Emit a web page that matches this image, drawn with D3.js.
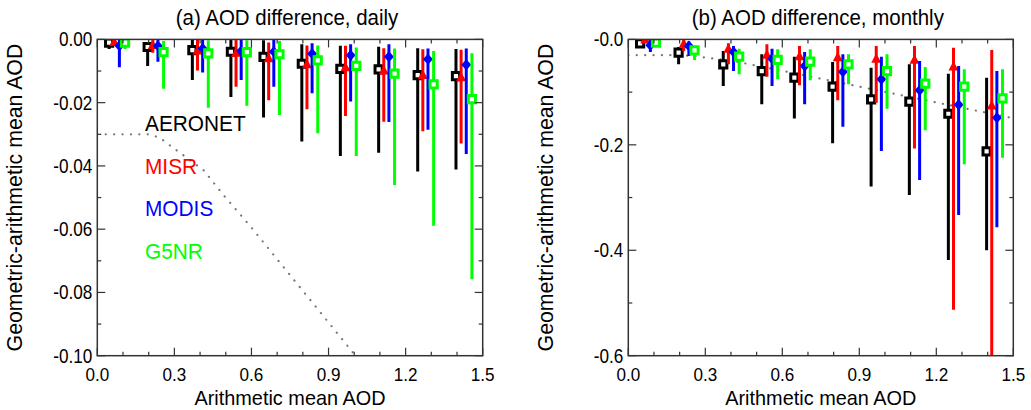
<!DOCTYPE html>
<html><head><meta charset="utf-8">
<script src="https://cdn.jsdelivr.net/npm/d3@7"></script>
<style>
html,body{margin:0;padding:0;background:#fff;}
svg{display:block;font-family:"Liberation Sans",Arial,Helvetica,sans-serif;}
</style></head>
<body><svg id="chart" width="1031" height="410"></svg>
<script>
// ---------------- data ----------------
const seriesNames = ["AERONET","MISR","MODIS","G5NR"];
const seriesColors = ["#000000","#ff0000","#0000ff","#00ff00"];
const seriesSymbols = ["square","triangle","diamond","square"];

// x position (arithmetic mean AOD) of each bin, per series
const aeronetX = [0.046,0.196,0.370,0.520,0.647,0.796,0.946,1.095,1.247,1.396];
const misrX    = [0.066,0.216,0.390,0.540,0.667,0.816,0.966,1.115,1.267,1.416];
const modisX   = [0.086,0.236,0.410,0.560,0.687,0.836,0.986,1.135,1.287,1.436];
const g5nrX    = [0.108,0.258,0.432,0.582,0.709,0.858,1.008,1.157,1.309,1.458];

// (a) daily
const dailyAeronet     = [-0.0010,-0.0024,-0.0034,-0.0039,-0.0055,-0.0077,-0.0093,-0.0095,-0.0113,-0.0116];
const dailyAeronetLow  = [-0.0030,-0.0084,-0.0128,-0.0182,-0.0247,-0.0323,-0.0369,-0.0358,-0.0418,-0.0411];
const dailyAeronetHigh = [0.0000,-0.0010,0.0000,0.0000,-0.0003,-0.0015,-0.0020,-0.0023,-0.0028,-0.0030];
const dailyMisr        = [-0.0010,-0.0019,-0.0037,-0.0044,-0.0061,-0.0080,-0.0090,-0.0100,-0.0114,-0.0121];
const dailyMisrLow     = [-0.0018,-0.0042,-0.0098,-0.0150,-0.0192,-0.0221,-0.0242,-0.0260,-0.0290,-0.0329];
const dailyMisrHigh    = [0.0000,0.0000,0.0000,-0.0002,-0.0010,-0.0019,-0.0020,-0.0028,-0.0031,-0.0033];
const dailyModis       = [-0.0020,-0.0021,-0.0029,-0.0037,-0.0039,-0.0045,-0.0050,-0.0055,-0.0063,-0.0080];
const dailyModisLow    = [-0.0088,-0.0071,-0.0105,-0.0128,-0.0150,-0.0170,-0.0196,-0.0261,-0.0286,-0.0362];
const dailyModisHigh   = [0.0000,0.0000,0.0000,0.0000,-0.0002,-0.0012,-0.0015,-0.0015,-0.0029,-0.0029];
const dailyG5nr        = [-0.0010,-0.0040,-0.0044,-0.0040,-0.0047,-0.0066,-0.0084,-0.0108,-0.0142,-0.0189];
const dailyG5nrLow     = [-0.0030,-0.0156,-0.0216,-0.0210,-0.0239,-0.0297,-0.0369,-0.0460,-0.0589,-0.0758];
const dailyG5nrHigh    = [0.0000,-0.0005,-0.0003,-0.0003,-0.0005,-0.0019,-0.0026,-0.0029,-0.0037,-0.0044];

// (b) monthly
const monthlyAeronet     = [-0.0074,-0.0250,-0.0472,-0.0600,-0.0726,-0.0897,-0.1137,-0.1180,-0.1410,-0.2123];
const monthlyAeronetLow  = [-0.0125,-0.0470,-0.0884,-0.1230,-0.1500,-0.1970,-0.2790,-0.2950,-0.4185,-0.4000];
const monthlyAeronetHigh = [0.0000,-0.0144,-0.0220,-0.0283,-0.0328,-0.0429,-0.0536,-0.0470,-0.0650,-0.0726];
const monthlyMisr        = [-0.0010,-0.0093,-0.0188,-0.0300,-0.0328,-0.0347,-0.0378,-0.0397,-0.0524,-0.1263];
const monthlyMisrLow     = [-0.0040,-0.0220,-0.0470,-0.0707,-0.0870,-0.1155,-0.1200,-0.2070,-0.5130,-0.6500];
const monthlyMisrHigh    = [0.0000,0.0000,-0.0074,-0.0093,-0.0125,-0.0125,-0.0125,-0.0125,-0.0157,-0.0200];
const monthlyModis       = [-0.0110,-0.0125,-0.0240,-0.0366,-0.0505,-0.0613,-0.0757,-0.0966,-0.1238,-0.1485];
const monthlyModisLow    = [-0.0240,-0.0315,-0.0600,-0.0884,-0.1230,-0.1656,-0.2117,-0.2667,-0.3330,-0.3565];
const monthlyModisHigh   = [0.0000,-0.0040,-0.0125,-0.0176,-0.0240,-0.0283,-0.0330,-0.0410,-0.0505,-0.0600];
const monthlyG5nr        = [-0.0060,-0.0207,-0.0328,-0.0390,-0.0423,-0.0472,-0.0600,-0.0840,-0.0897,-0.1117];
const monthlyG5nrLow     = [-0.0100,-0.0390,-0.0660,-0.0757,-0.0776,-0.0850,-0.1314,-0.1725,-0.2370,-0.2244];
const monthlyG5nrHigh    = [0.0000,-0.0120,-0.0176,-0.0188,-0.0188,-0.0280,-0.0283,-0.0524,-0.0567,-0.0567];

// dotted reference curve
const refX = [0.0,0.20,0.244,0.281,0.348,0.413,0.491,0.60,0.80,1.00,1.20,1.50];
const refY = [-0.030,-0.030,-0.0311,-0.0334,-0.0374,-0.0413,-0.0492,-0.0595,-0.0795,-0.0995,-0.1195,-0.1495];

// axes
const xTickValues = [0.0,0.3,0.6,0.9,1.2,1.5];
const xTickLabels = ["0.0","0.3","0.6","0.9","1.2","1.5"];
const dailyYTickValues = [0,-0.02,-0.04,-0.06,-0.08,-0.10];
const dailyYTickLabels = ["0.00","-0.02","-0.04","-0.06","-0.08","-0.10"];
const monthlyYTickValues = [0,-0.2,-0.4,-0.6];
const monthlyYTickLabels = ["-0.0","-0.2","-0.4","-0.6"];

const titles = ["(a) AOD difference, daily","(b) AOD difference, monthly"];
const xTitle = "Arithmetic mean AOD";
const yTitle = "Geometric-arithmetic mean AOD";

// ---------------- drawing ----------------
(function(){
const svg = d3.select("#chart");
const xs = [aeronetX, misrX, modisX, g5nrX];

const panels = [
  {left:97.3, right:482.7, domain:[-0.10,0], yTicks:dailyYTickValues, yLabels:dailyYTickLabels,
   yMinorStep:0.01, title:titles[0],
   mean:[dailyAeronet,dailyMisr,dailyModis,dailyG5nr],
   low:[dailyAeronetLow,dailyMisrLow,dailyModisLow,dailyG5nrLow],
   high:[dailyAeronetHigh,dailyMisrHigh,dailyModisHigh,dailyG5nrHigh], legend:true},
  {left:628.3, right:1013.3, domain:[-0.6,0], yTicks:monthlyYTickValues, yLabels:monthlyYTickLabels,
   yMinorStep:0.1, title:titles[1],
   mean:[monthlyAeronet,monthlyMisr,monthlyModis,monthlyG5nr],
   low:[monthlyAeronetLow,monthlyMisrLow,monthlyModisLow,monthlyG5nrLow],
   high:[monthlyAeronetHigh,monthlyMisrHigh,monthlyModisHigh,monthlyG5nrHigh], legend:false}
];
const plotTop = 39.4, plotBottom = 355.7;
const axisColor = "#333";

function label(g, x, y, txt, size, sx, anchor, rot, color) {
  return g.append("text")
    .attr("transform", `translate(${x},${y})` + (rot ? ` rotate(${rot})` : "") + ` scale(${sx},1)`)
    .attr("text-anchor", anchor).attr("font-size", size).attr("fill", color || "#000").text(txt);
}

panels.forEach((p, pi) => {
  const x = d3.scaleLinear().domain([0,1.5]).range([p.left,p.right]);
  const y = d3.scaleLinear().domain(p.domain).range([plotBottom,plotTop]);
  const g = svg.append("g");
  const clipId = "clip"+pi;
  svg.append("clipPath").attr("id",clipId).append("rect")
    .attr("x",p.left).attr("y",plotTop).attr("width",p.right-p.left).attr("height",plotBottom-plotTop);

  const plot = g.append("g").attr("clip-path",`url(#${clipId})`);

  // reference dotted curve
  const line = d3.line().x((d,i)=>x(refX[i])).y((d,i)=>y(refY[i]));
  plot.append("path").datum(refX).attr("d",line)
    .attr("fill","none").attr("stroke","#777").attr("stroke-width",2.2)
    .attr("stroke-dasharray","0.1,8.3").attr("stroke-linecap","round");

  // series
  for (let s=0; s<4; s++) {
    const col = seriesColors[s];
    const sg = plot.append("g");
    sg.selectAll("line").data(p.mean[s]).join("line")
      .attr("x1",(d,i)=>x(xs[s][i])).attr("x2",(d,i)=>x(xs[s][i]))
      .attr("y1",(d,i)=>y(p.high[s][i])).attr("y2",(d,i)=>y(p.low[s][i]))
      .attr("stroke",col).attr("stroke-width",3);
    const sym = seriesSymbols[s];
    const pts = sg.selectAll("path.m").data(p.mean[s]).join("path").attr("class","m")
      .attr("transform",(d,i)=>`translate(${x(xs[s][i])},${y(d)})`);
    if (sym==="square") {
      pts.attr("d","M-3.6,-3.6H3.6V3.6H-3.6Z").attr("fill","#fff").attr("stroke",col).attr("stroke-width",3);
    } else if (sym==="triangle") {
      pts.attr("d","M0,-6L5,3.5L-5,3.5Z").attr("fill",col);
    } else {
      pts.attr("d","M0,-5.5L5,0L0,5.5L-5,0Z").attr("fill",col);
    }
  }

  // frame
  g.append("rect").attr("x",p.left).attr("y",plotTop).attr("width",p.right-p.left).attr("height",plotBottom-plotTop)
    .attr("fill","none").attr("stroke",axisColor).attr("stroke-width",1.5);

  // x ticks (inward on bottom and top)
  const xMinor = d3.range(0,1.5001,0.1);
  xMinor.forEach(v => {
    const isMajor = xTickValues.some(t=>Math.abs(t-v)<1e-6);
    const len = isMajor ? 8 : 4;
    g.append("line").attr("x1",x(v)).attr("x2",x(v)).attr("y1",plotBottom).attr("y2",plotBottom-len)
      .attr("stroke",axisColor).attr("stroke-width",1.2);
    g.append("line").attr("x1",x(v)).attr("x2",x(v)).attr("y1",plotTop).attr("y2",plotTop+len)
      .attr("stroke",axisColor).attr("stroke-width",1.2);
  });
  // y ticks (inward on left and right)
  const yMinor = d3.range(0, Math.round(-p.domain[0]/p.yMinorStep)+1).map(k=>-k*p.yMinorStep);
  yMinor.forEach(v => {
    const isMajor = p.yTicks.some(t=>Math.abs(t-v)<1e-9);
    const len = isMajor ? 8 : 4;
    g.append("line").attr("x1",p.left).attr("x2",p.left+len).attr("y1",y(v)).attr("y2",y(v))
      .attr("stroke",axisColor).attr("stroke-width",1.2);
    g.append("line").attr("x1",p.right).attr("x2",p.right-len).attr("y1",y(v)).attr("y2",y(v))
      .attr("stroke",axisColor).attr("stroke-width",1.2);
  });

  // tick labels
  xTickValues.forEach((v,i)=> label(g, x(v), plotBottom+25, xTickLabels[i], 19, 0.9, "middle"));
  p.yTicks.forEach((v,i)=> label(g, p.left-5, y(v)+7, p.yLabels[i], 19.5, 0.88, "end"));

  // titles
  label(g, (p.left+p.right)/2 - 3, 25, p.title, 22.5, 0.91, "middle");
  label(g, (p.left+p.right)/2, 405, xTitle, 20.5, 0.97, "middle");
  label(g, p.left - 75, (plotTop+plotBottom)/2, yTitle, 21.3, 1.0, "middle", -90);

  // legend
  if (p.legend) {
    seriesNames.forEach((n,i)=> label(g, 145, 131+i*42.5, n, 21.5, 0.97, "start", 0, seriesColors[i]));
  }
});
})();
</script></body></html>
